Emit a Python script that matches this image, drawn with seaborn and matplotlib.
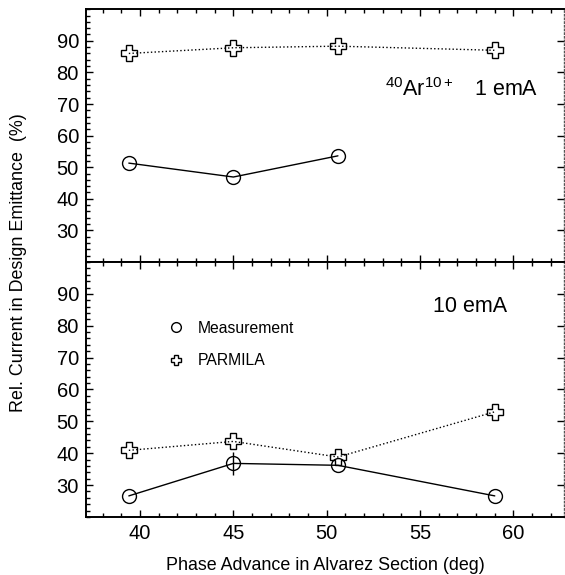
import matplotlib
matplotlib.use("Agg")
import matplotlib.pyplot as plt
import seaborn as sns
import pandas as pd
from matplotlib.lines import Line2D
from matplotlib.ticker import MultipleLocator

sns.set_style("ticks")
plt.rcParams['font.family'] = ['Liberation Sans', 'DejaVu Sans']
plt.rcParams['text.color'] = 'black'
plt.rcParams['axes.labelcolor'] = 'black'

# ---- data ----
phase_top_meas = [39.4, 45.0, 50.6]
meas_top = [51.3, 46.9, 53.6]
phase_parm = [39.4, 45.0, 50.6, 59.0]
parm_top = [86.0, 87.8, 88.3, 87.0]

phase_bot_meas = [39.4, 45.0, 50.6, 59.0]
meas_bot = [26.6, 36.8, 36.2, 26.6]
parm_bot = [40.9, 43.7, 38.8, 53.0]
err_x = [45.0]
err_y = [36.8]
err_val = [3.6]

x_ticks = [40, 45, 50, 55, 60]
y_ticks = [30, 40, 50, 60, 70, 80, 90]

fig = plt.figure(figsize=(5.65, 5.75), dpi=100)
left, right, top, bottom, mid = 0.152, 0.998, 0.984, 0.101, 0.5443
ax1 = fig.add_axes([left, mid, right - left, top - mid])
ax2 = fig.add_axes([left, bottom, right - left, mid - bottom], sharex=ax1)

def draw(ax, xm, ym, xp, yp):
    sns.lineplot(x=xm, y=ym, ax=ax, color='black', lw=1.0, marker='o',
                 markersize=10, markerfacecolor='none', markeredgecolor='black',
                 markeredgewidth=1.0, linestyle='-')
    sns.lineplot(x=xp, y=yp, ax=ax, color='black', lw=1.0, marker='P',
                 markersize=11, markerfacecolor='none', markeredgecolor='black',
                 markeredgewidth=1.0, linestyle=':')

draw(ax1, phase_top_meas, meas_top, phase_parm, parm_top)
draw(ax2, phase_bot_meas, meas_bot, phase_parm, parm_bot)
ax2.errorbar(err_x, err_y, yerr=err_val, fmt='none', ecolor='black', elinewidth=1.0, capsize=0)

for ax in (ax1, ax2):
    ax.set_xlim(37.1, 62.7)
    ax.set_ylim(20, 100)
    ax.set_yticks(y_ticks)
    ax.yaxis.set_minor_locator(MultipleLocator(2))
    ax.set_xticks(x_ticks)
    ax.xaxis.set_minor_locator(MultipleLocator(1))
    ax.tick_params(which='both', direction='in', top=True, bottom=True,
                   left=True, right=False, labelsize=14.5, width=1.0, colors='black')
    ax.tick_params(which='major', length=5, pad=5)
    ax.tick_params(which='minor', length=3)
    ax.tick_params(axis='y', which='major', right=True, length=5)
    for s in ('left', 'top', 'bottom'):
        ax.spines[s].set_linewidth(1.4)
        ax.spines[s].set_color('black')
    ax.spines['right'].set_linestyle(':')
    ax.spines['right'].set_color('#555555')
    ax.spines['right'].set_linewidth(1.0)
    ax.set_xlabel('')
    ax.set_ylabel('')

ax1.tick_params(labelbottom=False)

ax1.text(53.1, 74.6, r'$\mathregular{^{40}Ar^{10+}}$   1 emA', fontsize=15.5, va='center', ha='left')
ax2.text(55.7, 86.0, '10 emA', fontsize=15.5, va='center', ha='left')

handles = [Line2D([], [], marker='o', linestyle='none', markersize=7, markerfacecolor='none',
                  markeredgecolor='black', markeredgewidth=1.0, label='Measurement'),
           Line2D([], [], marker='P', linestyle='none', markersize=7.5, markerfacecolor='none',
                  markeredgecolor='black', markeredgewidth=1.0, label='PARMILA')]
ax2.legend(handles=handles, frameon=False, loc='upper left', bbox_to_anchor=(0.142, 0.825),
           fontsize=11.3, handlelength=1.0, handletextpad=0.9, labelspacing=1.1)

fig.text((left + right) / 2, 0.017, 'Phase Advance in Alvarez Section (deg)', ha='center',
         va='center', fontsize=12.9)
fig.text(0.033, 0.544, 'Rel. Current in Design Emittance  (%)', rotation=90, ha='center',
         va='center', fontsize=12.9)

fig.savefig('out.png', dpi=100)
